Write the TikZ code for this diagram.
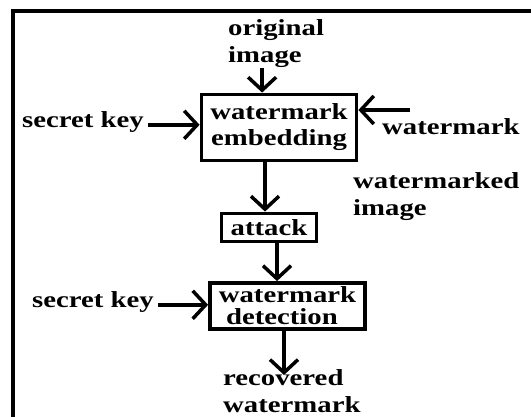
\documentclass[tikz,border=0pt]{standalone}
\usepackage{fontspec}
\setmainfont{Liberation Serif}[FakeStretch=1.25]
\usetikzlibrary{arrows.meta}

\begin{document}
\begin{tikzpicture}[x=1pt,y=-1pt,
    every node/.style={font=\fontsize{23}{27}\selectfont\bfseries, inner sep=0pt},
    blk/.style={draw, line width=3.8pt},
    arr/.style={line width=3.5pt, -{Straight Barb[length=13pt,width=28pt]}}]
  % Canvas and frame
  \useasboundingbox[fill=white] (0,0) rectangle (531,417);
  \begin{scope}
    \clip (0,0) rectangle (531,417);
    \draw[line width=4pt] (13,11) rectangle (560,440);
  \end{scope}

  % Boxes
  \node[blk, minimum width=155pt, minimum height=66pt, align=center,
        font=\fontsize{23}{26}\selectfont\bfseries] (embed) at (279,127.5) {watermark\\embedding};
  \node[blk, minimum width=95pt, minimum height=28pt] (attack) at (269,227.5) {attack};
  \node[blk, minimum width=155pt, minimum height=46pt, align=left,
        font=\fontsize{23}{22}\selectfont\bfseries] (detect) at (287.5,306) {watermark\\\ detection};

  % Labels
  \node[anchor=north west, align=left] (orig) at (228,19.5) {original\\image};
  \node[anchor=base west] (key1) at (22,128) {secret key};
  \node[anchor=base west] (wm) at (382,135) {watermark};
  \node[anchor=north west, align=left] (wmd) at (353,172.5) {watermarked\\image};
  \node[anchor=base west] (key2) at (32,308) {secret key};
  \node[anchor=north west, align=left] (recov) at (223,369.5) {recovered\\watermark};
  \coordinate (wmin) at (410,110);
  \coordinate (out) at (284,375);

  % Arrows
  \draw[arr] ([xshift=-14pt]orig.south) -- ([xshift=-14pt]orig.south |- embed.north);
  \draw[arr] ([xshift=4pt,yshift=-2.3pt]key1.east) -- ([yshift=-2.3pt]key1.east -| embed.west);
  \draw[arr] (wmin) -- (wmin -| embed.east);
  \draw[arr] ([xshift=-14pt]embed.south) -- ([xshift=-14pt]embed.south |- attack.north);
  \draw[arr] ([xshift=8pt]attack.south) -- ([xshift=8pt]attack.south |- detect.north);
  \draw[arr] ([xshift=4pt,yshift=-2.3pt]key2.east) -- ([yshift=-2.3pt]key2.east -| detect.west);
  \draw[arr] ([xshift=-3.5pt]detect.south) -- (out);
\end{tikzpicture}
\end{document}
